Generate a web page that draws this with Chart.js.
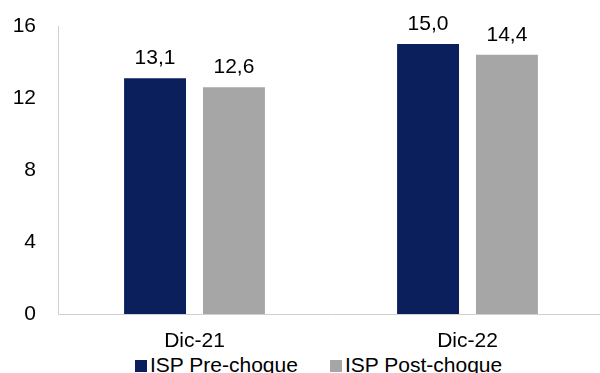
<!DOCTYPE html>
<html>
<head>
<meta charset="utf-8">
<script src="https://cdn.jsdelivr.net/npm/chart.js@4.4.1/dist/chart.umd.min.js"></script>
<style>
  html, body { margin: 0; padding: 0; background: #fff; }
  body { width: 600px; height: 373px; overflow: hidden; position: relative; }
  #wrap { position: absolute; left: 0; top: 0; width: 610px; height: 352px; }
  #legend { position: absolute; top: 354px; left: 0; font: 21px "Liberation Sans", Arial, sans-serif; line-height: 21px; color: #000; white-space: nowrap; }
  .item { position: absolute; top: 0; display: flex; align-items: flex-end; }
  .box { width: 12px; height: 12px; margin-right: 3px; margin-bottom: 3px; }
</style>
</head>
<body>
<div id="wrap"><canvas id="chart"></canvas></div>
<div id="legend"></div>
<script>
const categories = ['Dic-21', 'Dic-22']
const seriesNames = ['ISP Pre-choque', 'ISP Post-choque']
const preChoque = [13.1, 15.0]
const postChoque = [12.6, 14.4]
const yTicks = [0, 4, 8, 12, 16]

const colors = ['#0b1f5c', '#a6a6a6']
const fontFamily = '"Liberation Sans", Arial, sans-serif'

// etiquetas de valor encima de las barras
const valueLabels = {
  id: 'valueLabels',
  afterDatasetsDraw(chart) {
    const ctx = chart.ctx
    ctx.save()
    ctx.font = '21px ' + fontFamily
    ctx.fillStyle = '#000'
    ctx.textAlign = 'center'
    ctx.textBaseline = 'alphabetic'
    chart.data.datasets.forEach((ds, i) => {
      chart.getDatasetMeta(i).data.forEach((bar, j) => {
        ctx.fillText(ds.data[j].toFixed(1).replace('.', ','), bar.x, bar.y - 14)
      })
    })
    ctx.restore()
  }
}

new Chart(document.getElementById('chart'), {
  type: 'bar',
  data: {
    labels: categories,
    datasets: [
      { label: seriesNames[0], data: preChoque, backgroundColor: colors[0] },
      { label: seriesNames[1], data: postChoque, backgroundColor: colors[1] }
    ]
  },
  options: {
    responsive: true,
    maintainAspectRatio: false,
    animation: false,
    layout: { padding: { top: 26, right: 6, left: 0, bottom: 0 } },
    categoryPercentage: 0.578,
    barPercentage: 0.785,
    plugins: {
      legend: { display: false },
      tooltip: { enabled: false }
    },
    scales: {
      x: {
        grid: { display: false, drawTicks: false },
        border: { display: true, color: '#d0d0d0', width: 1 },
        ticks: { color: '#000', font: { family: fontFamily, size: 21 }, padding: 15, maxRotation: 0 },
        afterFit(scale) { scale.height = 38 }
      },
      y: {
        min: 0,
        max: 16,
        afterBuildTicks(scale) { scale.ticks = yTicks.map(v => ({ value: v })) },
        grid: { display: false, drawTicks: false },
        border: { display: true, color: '#d0d0d0', width: 1 },
        ticks: { color: '#000', font: { family: fontFamily, size: 21 }, padding: 22 },
        afterFit(scale) {
          scale.width = 58
          scale.paddingTop = 0
          scale.paddingBottom = 0
        }
      }
    }
  },
  plugins: [valueLabels]
})

// leyenda en HTML
const legendX = [135, 330]
const legend = document.getElementById('legend')
seriesNames.forEach((name, i) => {
  const item = document.createElement('div')
  item.className = 'item'
  item.style.left = legendX[i] + 'px'
  item.innerHTML = '<span class="box" style="background:' + colors[i] + '"></span><span>' + name + '</span>'
  legend.appendChild(item)
})
</script>
</body>
</html>
